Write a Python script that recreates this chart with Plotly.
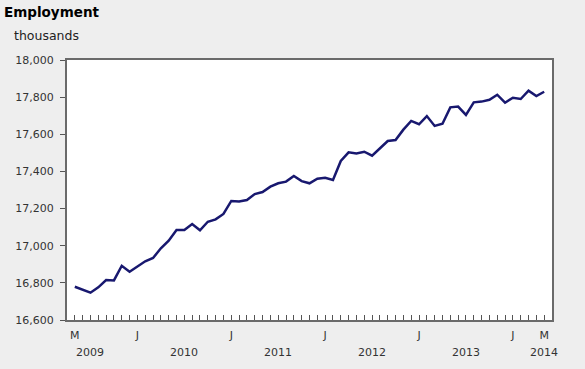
import plotly.graph_objects as go
import pandas as pd

# Monthly employment, thousands (May 2009 - May 2014)
months = [d.strftime("%Y-%m") for d in pd.date_range("2009-05-01", "2014-05-01", freq="MS")]
employment = [
    16779, 16761, 16747, 16776, 16815, 16813, 16892, 16860,
    16887, 16916, 16934, 16986, 17027, 17085, 17085, 17117, 17083, 17129, 17142, 17171,
    17241, 17238, 17246, 17278, 17289, 17318, 17336, 17345, 17375, 17348, 17336, 17361,
    17366, 17354, 17456, 17503, 17497, 17506, 17485, 17523, 17564, 17569, 17625, 17672,
    17654, 17698, 17645, 17657, 17745, 17749, 17704, 17772, 17776, 17786, 17813, 17770,
    17797, 17790, 17835, 17806, 17829,
]
year_label_month = "07"
y_ticks = [16600, 16800, 17000, 17200, 17400, 17600, 17800, 18000]

idx = list(range(len(months)))
tick_text = []
for i, m in enumerate(months):
    mm = m[5:]
    if mm == "01":
        tick_text.append("J")
    elif mm == "05" and (i == 0 or i == len(months) - 1):
        tick_text.append("M")
    else:
        tick_text.append("")

year_pos = []
year_txt = []
for i, m in enumerate(months):
    if m[5:] == year_label_month:
        year_pos.append(i)
        year_txt.append(m[:4])
year_pos.append(len(months) - 1)
year_txt.append(months[-1][:4])

FONT = "DejaVu Sans, Verdana, sans-serif"

fig = go.Figure()
fig.add_trace(go.Scatter(
    x=idx, y=employment, mode="lines",
    line=dict(color="#18186f", width=2.5),
    text=months, hovertemplate="%{text}: %{y:,}<extra></extra>",
))

fig.update_layout(
    width=585, height=369,
    margin=dict(l=67, r=33, t=60, b=49),
    paper_bgcolor="#eeeeee", plot_bgcolor="#ffffff",
    showlegend=False,
    font=dict(family=FONT, size=11, color="#333333"),
)
fig.update_xaxes(
    range=[-1, len(months)], tickmode="array", tickvals=idx, ticktext=tick_text,
    ticks="inside", ticklen=5, tickcolor="#555555", tickwidth=1,
    showgrid=False, zeroline=False,
    showline=True, linecolor="#6a6a6a", linewidth=2, mirror=True,
    tickfont=dict(size=11, color="#333333"),
    ticklabelstandoff=4,
)
fig.update_yaxes(
    range=[y_ticks[0], y_ticks[-1]], tickmode="array", tickvals=y_ticks,
    ticktext=[f"{v:,}" for v in y_ticks],
    ticks="outside", ticklen=5, tickcolor="#555555",
    showgrid=False, zeroline=False,
    showline=True, linecolor="#6a6a6a", linewidth=2, mirror=True,
    tickfont=dict(size=11, color="#333333"),
    ticklabelstandoff=4,
)

for p, t in zip(year_pos, year_txt):
    fig.add_annotation(x=p, y=-0.125, xref="x", yref="paper", text=t,
                       showarrow=False, font=dict(size=11, color="#333333"),
                       xanchor="center", yanchor="middle")

fig.add_annotation(x=-0.134, y=1.185, xref="paper", yref="paper", text="<b>Employment</b>",
                   showarrow=False, xanchor="left", yanchor="middle",
                   font=dict(size=13.5, color="#000000", family=FONT))
fig.add_annotation(x=-0.113, y=1.093, xref="paper", yref="paper", text="thousands",
                   showarrow=False, xanchor="left", yanchor="middle",
                   font=dict(size=12.5, color="#222222", family=FONT))

fig.write_html(
    "out.html",
    config={"displayModeBar": False},
    post_script="document.body.style.margin='0';document.body.style.background='#eeeeee';",
)
